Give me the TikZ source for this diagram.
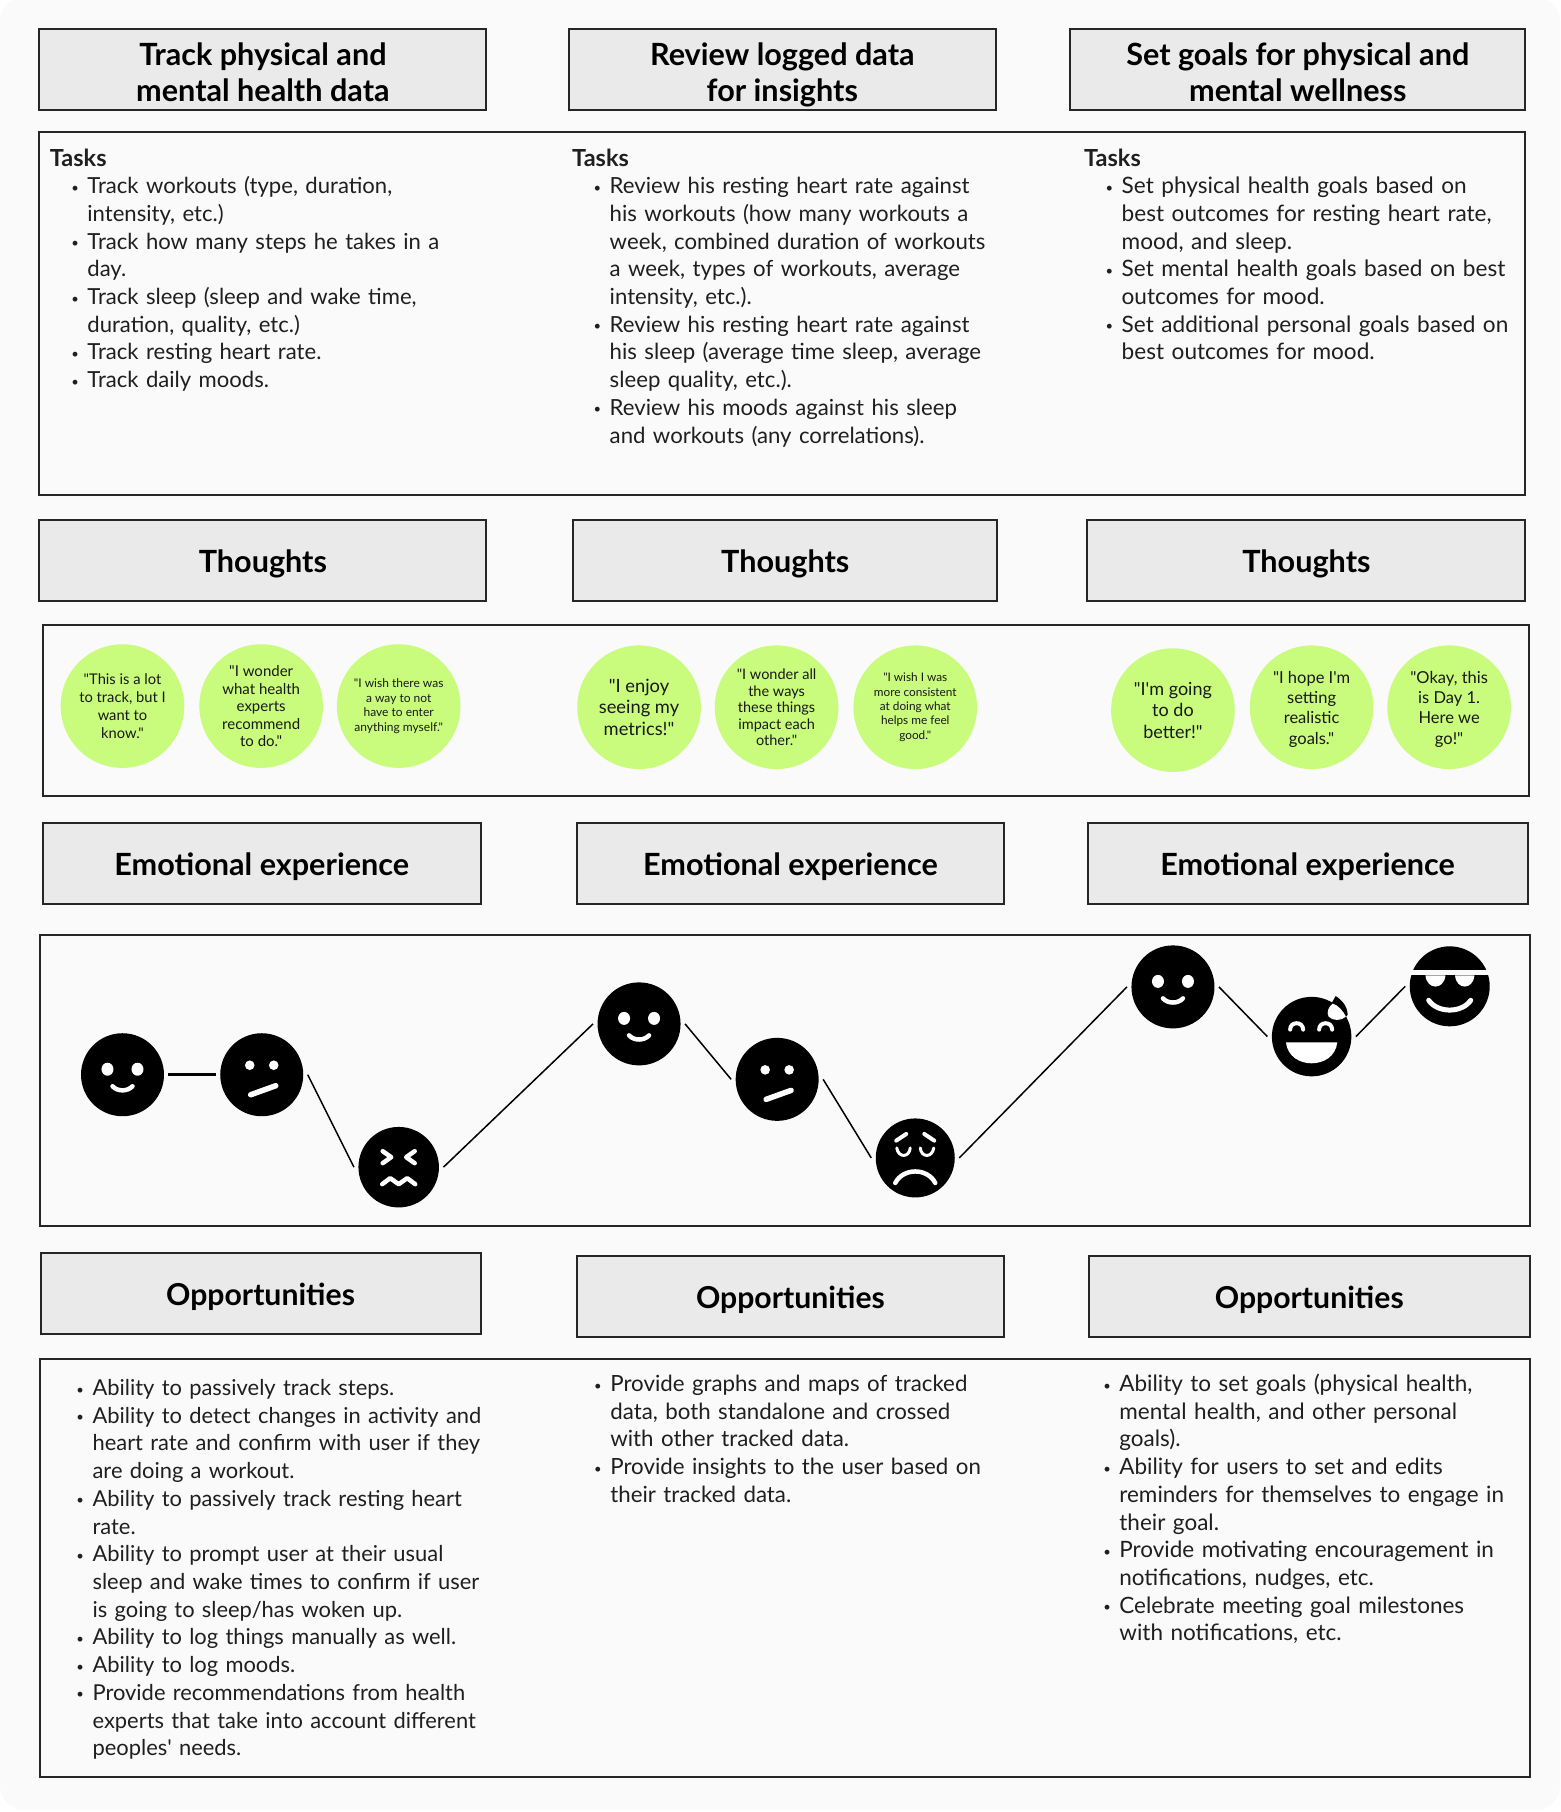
\documentclass[tikz,border=0pt]{standalone}
\usepackage{fontspec}
\setmainfont{Lato}[Ligatures=TeXOff]
\usetikzlibrary{calc}
\definecolor{panel}{HTML}{FAFAFA}
\definecolor{headfill}{HTML}{EAEAEA}
\definecolor{lime}{HTML}{C9FB7C}
\definecolor{ink}{HTML}{262626}
\newcommand{\bodyfont}{\fontsize{22.1pt}{27.7pt}\selectfont}
\newcommand{\taskhead}{{\fontsize{23.5pt}{27.7pt}\selectfont\textbf{Tasks}}\par}
\newcommand{\itm}[1]{\par\hangindent=37.5pt\hangafter=1\noindent\makebox[0pt][l]{\hspace{21.4pt}\raisebox{1.5pt}{\fontsize{13pt}{13pt}\selectfont •}}\hspace{37.5pt}\ignorespaces #1\par}
\newcommand{\topgap}[1]{\rule{0pt}{#1}}
\tikzset{
 head/.style={draw=ink,line width=2pt,fill=headfill,align=center,inner sep=0pt,font=\fontsize{30.6pt}{36.3pt}\selectfont\bfseries,
   execute at begin node={\rule{0pt}{32pt}},execute at end node={\rule[-8pt]{0pt}{8pt}}},
 frame/.style={draw=ink,line width=2pt,fill=panel},
 body/.style={anchor=north west,inner sep=0pt,align=left,font=\bodyfont,text=black!88},
 bubble/.style={circle,fill=lime,minimum size=123.6pt,inner sep=0pt,align=center,text=black!90},
 face/.style={circle,fill=black,inner sep=0pt,outer sep=4.5pt,minimum size=#1},
 conn/.style={draw=black,line width=1.5pt},
 featw/.style={draw=white,line width=#1,line cap=round,line join=round},
 featw/.default=4pt,
}
% all feature coordinates are in full-size pixels relative to the face centre
\newcommand{\faceSmile}[1]{
 \begin{scope}[shift={(#1)},x=1pt,y=-1pt]
  \fill[white] (-15,-5.5) circle[x radius=6pt,y radius=6.5pt] (15,-5.5) circle[x radius=6pt,y radius=6.5pt];
  \draw[featw=4.5pt] (-10,11.5) .. controls (-5,17) and (5,17) .. (10,11.5);
 \end{scope}}
\newcommand{\faceMeh}[1]{
 \begin{scope}[shift={(#1)},x=1pt,y=-1pt]
  \fill[white] (-12,-9.5) circle[radius=4.8pt] (12,-9.5) circle[radius=4.8pt];
  \draw[featw=5.5pt] (-11,20) -- (14,11);
 \end{scope}}
\newcommand{\faceX}[1]{
 \begin{scope}[shift={(#1)},x=1pt,y=-1pt]
  \draw[featw=4.5pt] (-16,-16) -- (-7.5,-10) -- (-16,-4);
  \draw[featw=4.5pt] (16,-16) -- (7.5,-10) -- (16,-4);
  \draw[featw=4.5pt] (-16.5,17) -- (-8.5,11) -- (0,17) -- (8.5,11) -- (16.5,17);
 \end{scope}}
\newcommand{\faceSad}[1]{
 \begin{scope}[shift={(#1)},x=1pt,y=-1pt]
  \draw[featw=4pt] (-19,-17.3) -- (-9,-24);
  \draw[featw=4pt] (19,-17.3) -- (9,-24);
  \draw[featw=3pt] (-18.5,-10) .. controls (-17,0) and (-6,0) .. (-5,-10);
  \draw[featw=3pt] (5,-10) .. controls (6,0) and (17,0) .. (18.5,-10);
  \draw[featw=4.5pt] (-20,25) .. controls (-12,9.7) and (12,9.7) .. (20,25);
 \end{scope}}
\newcommand{\faceLaugh}[1]{
 \begin{scope}[shift={(#1)},x=1pt,y=-1pt]
  \draw[featw=4pt] (-21.5,-7) .. controls (-21.5,-15.5) and (-8.5,-15.5) .. (-8.5,-7);
  \draw[featw=4pt] (7.5,-7) .. controls (7.5,-15.5) and (20.5,-15.5) .. (20.5,-7);
  \fill[white] (-25.7,5.7) -- (25.7,5.7) .. controls (24,20) and (12,26.7) .. (0,26.7) .. controls (-12,26.7) and (-24,20) .. (-25.7,5.7) -- cycle;
  \fill[black] (24,-40.5) .. controls (30,-37) and (36,-30) .. (36,-22) .. controls (33,-15) and (20,-16) .. (18,-30) -- cycle;
  \fill[white] (21,-33) .. controls (26,-32) and (32,-25) .. (34.3,-20) .. controls (30,-15.5) and (21,-15.5) .. (17,-20) .. controls (14.5,-24) and (17,-30) .. (21,-33) -- cycle;
 \end{scope}}
\newcommand{\faceCool}[1]{
 \begin{scope}[shift={(#1)},x=1pt,y=-1pt]
  \fill[panel] (-42,-16) rectangle (42,-11);
  \fill[white] (-24.3,-11) .. controls (-23,4) and (-5.5,4) .. (-4.3,-11) -- cycle;
  \fill[white] (5.3,-11) .. controls (6.5,4) and (23.5,4) .. (24.7,-11) -- cycle;
  \draw[featw=5pt] (-21,14) .. controls (-12,27) and (12,27) .. (21,14);
 \end{scope}}
\begin{document}
\begin{tikzpicture}[x=1.15556pt,y=-1.15556pt]
\useasboundingbox (0,0) rectangle (1350,1568);
\fill[white] (0,0) rectangle (1350,1568);
\fill[panel,rounded corners=24pt] (0,-2) rectangle (1350,1566);
% headers
\node[head,minimum width=447pt,minimum height=81pt] (h1) at (227.5,60) {\topgap{36pt}Track physical and\\mental health data};
\node[head,minimum width=427.5pt,minimum height=81pt] (h2) at (677,60) {\topgap{36pt}Review logged data\\for insights};
\node[head,minimum width=455pt,minimum height=81pt] (h3) at (1123,60) {\topgap{36pt}Set goals for physical and\\mental wellness};
% tasks
\path[frame] (34,114) rectangle (1320,428);
\node[body,text width=440pt] (t1) at (43,128.4) {\taskhead
 \itm{Track workouts (type, duration,\newline intensity, etc.)}
 \itm{Track how many steps he takes in a\newline day.}
 \itm{Track sleep (sleep and wake time,\newline duration, quality, etc.)}
 \itm{Track resting heart rate.}
 \itm{Track daily moods.}};
\node[body,text width=440pt,font=\fontsize{22.2pt}{27.7pt}\selectfont] (t2) at (495,128.4) {\taskhead
 \itm{Review his resting heart rate against\newline his workouts (how many workouts a\newline week, combined duration of workouts\newline a week, types of workouts, average\newline intensity, etc.).}
 \itm{Review his resting heart rate against\newline his sleep (average time sleep, average\newline sleep quality, etc.).}
 \itm{Review his moods against his sleep\newline and workouts (any correlations).}};
\node[body,text width=440pt,font=\fontsize{22.6pt}{27.7pt}\selectfont] (t3) at (938,128.4) {\taskhead
 \itm{Set physical health goals based on\newline best outcomes for resting heart rate,\newline mood, and sleep.}
 \itm{Set mental health goals based on best\newline outcomes for mood.}
 \itm{Set additional personal goals based on\newline best outcomes for mood.}};
% thoughts
\node[head,minimum width=447pt,minimum height=81pt] (th1) at (227.5,485) {Thoughts};
\node[head,minimum width=424pt,minimum height=81pt] (th2) at (679.5,485) {Thoughts};
\node[head,minimum width=438pt,minimum height=81pt] (th3) at (1130.5,485) {Thoughts};
\path[frame] (37,541) rectangle (1323,689);
\node[bubble,font=\fontsize{14.7pt}{18.2pt}\selectfont] (b1) at (106,611) {"This is a lot\\to track, but I\\want to\\know."};
\node[bubble,font=\fontsize{15pt}{17.5pt}\selectfont] (b2) at (226,611) {"I wonder\\what health\\experts\\recommend\\to do."};
\node[bubble,font=\fontsize{12pt}{14.5pt}\selectfont] (b3) at (345,611) {"I wish there was\\a way to not\\have to enter\\anything myself."};
\node[bubble,font=\fontsize{18.3pt}{21.5pt}\selectfont] (b4) at (553,612) {"I enjoy\\seeing my\\metrics!"};
\node[bubble,font=\fontsize{14.5pt}{16.5pt}\selectfont] (b5) at (672,612) {"I wonder all\\the ways\\these things\\impact each\\other."};
\node[bubble,font=\fontsize{11.8pt}{14.3pt}\selectfont] (b6) at (792,612) {"I wish I was\\more consistent\\at doing what\\helps me feel\\good."};
\node[bubble,font=\fontsize{18pt}{21.5pt}\selectfont] (b7) at (1015,614.5) {"I'm going\\to do\\better!"};
\node[bubble,font=\fontsize{16.5pt}{20.3pt}\selectfont] (b8) at (1135,612) {\topgap{16pt}"I hope I'm\\setting\\realistic\\goals."};
\node[bubble,font=\fontsize{16.5pt}{20.3pt}\selectfont] (b9) at (1254,612) {\topgap{16pt}"Okay, this\\is Day 1.\\Here we\\go!"};
% emotional
\node[head,minimum width=438pt,minimum height=81pt] (e1) at (226.5,747) {Emotional experience};
\node[head,minimum width=427.5pt,minimum height=81pt] (e2) at (684,747) {Emotional experience};
\node[head,minimum width=440pt,minimum height=81pt] (e3) at (1131.5,747) {Emotional experience};
\path[frame] (35,809) rectangle (1324,1061);
\node[face=83pt] (f1) at (106,930) {};
\node[face=83pt] (f2) at (226.5,930) {};
\node[face=80.5pt] (f3) at (345,1010) {};
\node[face=83pt] (f4) at (553,886) {};
\node[face=83pt] (f5) at (672.5,934) {};
\node[face=79pt] (f6) at (792,1002) {};
\node[face=83pt] (f7) at (1015,854) {};
\node[face=79.5pt] (f8) at (1135,897) {};
\node[face=80pt] (f9) at (1254.5,853.5) {};
\faceSmile{f1.center}\faceMeh{f2.center}\faceX{f3.center}\faceSmile{f4.center}\faceMeh{f5.center}\faceSad{f6.center}\faceSmile{f7.center}\faceLaugh{f8.center}\faceCool{f9.center}
\draw[conn,line width=2.5pt] (f1.east) -- (f2.west);
\draw[conn] (f2.east) -- (f3.west);
\draw[conn] (f3.east) -- (f4.west);
\draw[conn] (f4.east) -- (f5.west);
\draw[conn] (f5.east) -- (f6.west);
\draw[conn] (f6.east) -- (f7.west);
\draw[conn] (f7.east) -- (f8.west);
\draw[conn] (f8.east) -- (f9.west);
% opportunities
\node[head,minimum width=440pt,minimum height=81pt,font=\fontsize{30.2pt}{36.3pt}\selectfont\bfseries] (o1) at (225.5,1119) {Opportunities};
\node[head,minimum width=427.5pt,minimum height=81pt,font=\fontsize{30.2pt}{36.3pt}\selectfont\bfseries] (o2) at (684,1122) {Opportunities};
\node[head,minimum width=441.5pt,minimum height=81pt,font=\fontsize{30.2pt}{36.3pt}\selectfont\bfseries] (o3) at (1133,1122) {Opportunities};
\path[frame] (35,1176) rectangle (1324,1538);
\node[body,text width=440pt,font=\fontsize{21.9pt}{27.7pt}\selectfont] (p1) at (47.5,1183.5) {
 \itm{Ability to passively track steps.}
 \itm{Ability to detect changes in activity and\newline heart rate and confirm with user if they\newline are doing a workout.}
 \itm{Ability to passively track resting heart\newline rate.}
 \itm{Ability to prompt user at their usual\newline sleep and wake times to confirm if user\newline is going to sleep/has woken up.}
 \itm{Ability to log things manually as well.}
 \itm{Ability to log moods.}
 \itm{Provide recommendations from health\newline experts that take into account different\newline peoples' needs.}};
\node[body,text width=440pt,font=\fontsize{22.3pt}{27.7pt}\selectfont] (p2) at (495.5,1180) {
 \itm{Provide graphs and maps of tracked\newline data, both standalone and crossed\newline with other tracked data.}
 \itm{Provide insights to the user based on\newline their tracked data.}};
\node[body,text width=440pt,font=\fontsize{22.5pt}{27.7pt}\selectfont] (p3) at (936,1180) {
 \itm{Ability to set goals (physical health,\newline mental health, and other personal\newline goals).}
 \itm{Ability for users to set and edits\newline reminders for themselves to engage in\newline their goal.}
 \itm{Provide motivating encouragement in\newline notifications, nudges, etc.}
 \itm{Celebrate meeting goal milestones\newline with notifications, etc.}};
\end{tikzpicture}
\end{document}
